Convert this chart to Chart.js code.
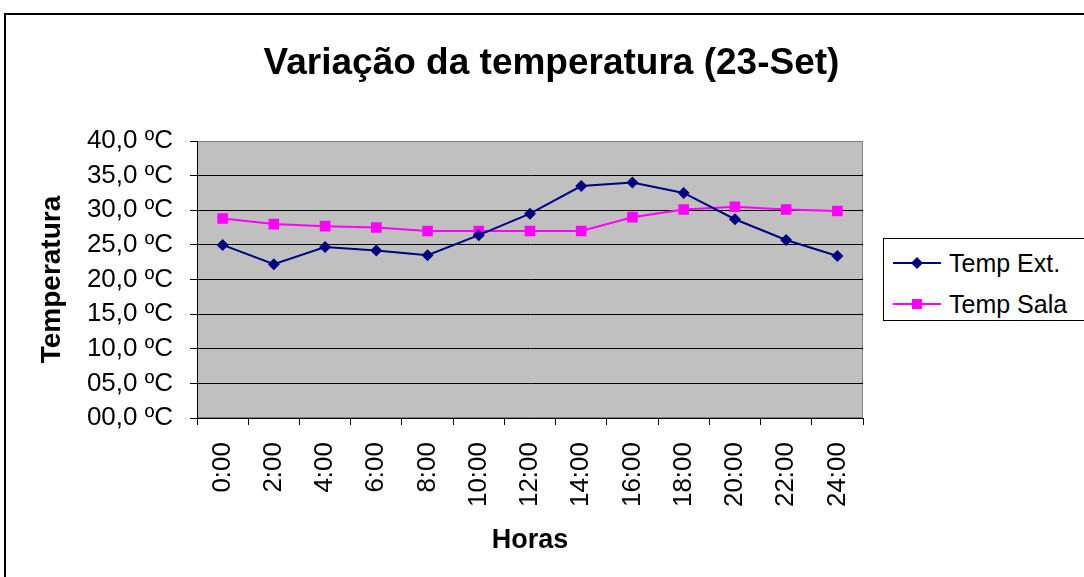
<!DOCTYPE html>
<html>
<head>
<meta charset="utf-8">
<script src="https://cdn.jsdelivr.net/npm/chart.js@4/dist/chart.umd.min.js"></script>
<style>
  html, body { margin: 0; padding: 0; background: #fff; overflow: hidden; }
  #wrap { position: relative; width: 1084px; height: 577px; overflow: hidden; font-family: "Liberation Sans", Arial, sans-serif; }
  #frame { position: absolute; left: 4px; top: 13px; width: 1200px; height: 700px; border: 2px solid #000; box-sizing: border-box; }
  #title { position: absolute; left: 0; width: 1103px; top: 38px; text-align: center; font-weight: bold; font-size: 37px; line-height: 48px; color: #000; }
  #chart { position: absolute; left: 0; top: 0; }
  #legend { position: absolute; left: 883px; top: 238px; width: 240px; height: 83px; border: 1px solid #000; box-sizing: border-box; background: #fff; }
  .row { position: absolute; left: 9px; height: 30px; display: flex; align-items: center; font-size: 25px; color: #000; }
  .row svg { margin-right: 8px; }
</style>
</head>
<body>
<div id="wrap">
  <div id="frame"></div>
  <canvas id="chart" width="1084" height="577"></canvas>
  <div id="title">Variação da temperatura (23-Set)</div>
  <div id="legend">
    <div class="row" style="top:9px"><svg width="48" height="20"><line x1="0" y1="10" x2="48" y2="10" stroke="#000080" stroke-width="2"/><polygon points="24,4 30,10 24,16 18,10" fill="#000080"/></svg><span>Temp Ext.</span></div>
    <div class="row" style="top:50px"><svg width="48" height="20"><line x1="0" y1="10" x2="48" y2="10" stroke="#FF00FF" stroke-width="2"/><rect x="19" y="5" width="10" height="10" fill="#FF00FF"/></svg><span>Temp Sala</span></div>
  </div>
</div>
<script>
const horas = ["0:00","2:00","4:00","6:00","8:00","10:00","12:00","14:00","16:00","18:00","20:00","22:00","24:00"];
const tempExt = [25.0, 22.2, 24.7, 24.2, 23.5, 26.4, 29.5, 33.5, 34.0, 32.5, 28.7, 25.7, 23.4];
const tempSala = [28.8, 28.0, 27.7, 27.5, 27.0, 27.0, 27.0, 27.0, 29.0, 30.1, 30.5, 30.1, 29.9];
const seriesNames = ["Temp Ext.", "Temp Sala"];
const yTitle = "Temperatura";
const xTitle = "Horas";

const FONT = '"Liberation Sans", Arial, sans-serif';

const plotBg = {
  id: 'plotBg',
  beforeDraw(chart) {
    const {ctx, chartArea: a} = chart;
    ctx.save();
    ctx.fillStyle = '#C0C0C0';
    ctx.fillRect(a.left, a.top, a.right - a.left, a.bottom - a.top);
    ctx.strokeStyle = '#808080';
    ctx.lineWidth = 1;
    ctx.strokeRect(a.left + 0.5, a.top + 0.5, a.right - a.left - 1, a.bottom - a.top - 1);
    ctx.restore();
  }
};

new Chart(document.getElementById('chart'), {
  type: 'line',
  data: {
    labels: horas,
    datasets: [
      { label: seriesNames[0], data: tempExt, borderColor: '#000080', backgroundColor: '#000080',
        borderWidth: 2, pointStyle: 'rectRot', pointRadius: 6, pointBorderWidth: 0, tension: 0 },
      { label: seriesNames[1], data: tempSala, borderColor: '#FF00FF', backgroundColor: '#FF00FF',
        borderWidth: 2, pointStyle: 'rect', pointRadius: 7.5, pointBorderWidth: 0, tension: 0 }
    ]
  },
  options: {
    responsive: false,
    animation: false,
    events: [],
    layout: { padding: { left: 0, top: 141, right: 221, bottom: 0 } },
    plugins: { legend: { display: false }, title: { display: false }, tooltip: { enabled: false } },
    scales: {
      x: {
        offset: true,
        afterFit(s) { s.height = 159; },
        grid: { offset: true, drawOnChartArea: false, drawTicks: true, tickLength: 7, color: '#000', tickColor: '#000', lineWidth: 1 },
        border: { display: true, color: '#000', width: 1 },
        ticks: { minRotation: 90, maxRotation: 90, padding: 17, color: '#000', font: { family: FONT, size: 26 }, autoSkip: false },
        title: { display: true, text: xTitle, color: '#000', font: { family: FONT, size: 27, weight: 'bold', lineHeight: 1.2 }, padding: { top: 0, bottom: 20 } }
      },
      y: {
        min: 0, max: 40,
        afterFit(s) { s.width = 197; },
        grid: { drawTicks: true, tickLength: 7, tickColor: '#000', lineWidth: 1,
                color: (c) => (c.tick && c.tick.value === 40) ? '#808080' : '#000' },
        border: { display: true, color: '#000', width: 1 },
        ticks: {
          stepSize: 5, padding: 17, color: '#000', font: { family: FONT, size: 26 },
          callback: (v) => (v < 10 ? '0' : '') + Number(v).toFixed(1).replace('.', ',') + ' ºC'
        },
        title: { display: true, text: yTitle, color: '#000', font: { family: FONT, size: 28, weight: 'bold', lineHeight: 1.2 }, padding: { top: 35, bottom: 0 } }
      }
    }
  },
  plugins: [plotBg]
});
</script>
</body>
</html>
